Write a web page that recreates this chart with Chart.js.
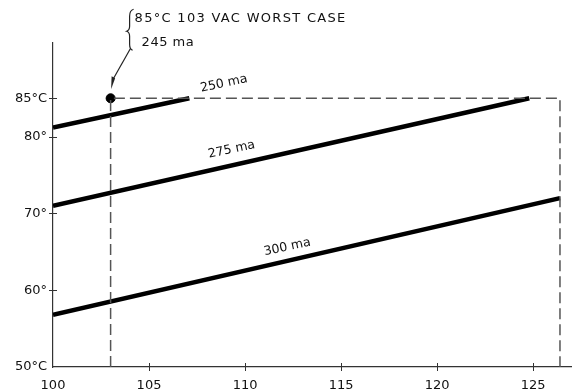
<!DOCTYPE html>
<html>
<head>
<meta charset="utf-8">
<script src="https://cdn.jsdelivr.net/npm/chart.js@4.4.1/dist/chart.umd.min.js"></script>
<style>
  html, body { margin: 0; padding: 0; background: #fff; }
  #wrap { width: 577px; height: 390px; position: relative; }
</style>
</head>
<body>
<div id="wrap"><canvas id="chart"></canvas></div>
<script>
// curves: case temperature vs line voltage for three currents
const currentLabels = ["250 ma", "275 ma", "300 ma"];
const voltage250 = [100, 107.1];
const temp250 = [81.2, 85];
const voltage275 = [100, 124.8];
const temp275 = [71.0, 85];
const voltage300 = [100, 126.4];
const temp300 = [56.8, 72.0];

// where each current label sits (data coords)
const labelX = [108.9, 109.3, 112.2];
const labelY = [86.9, 78.3, 65.6];

// worst case point and its dashed box
const worstX = [103];
const worstY = [85];
const boxX = [103, 103, 126.4, 126.4];
const boxY = [50, 85, 85, 50];
const annotationLines = ["85°C 103 VAC WORST CASE", "245 ma"];

// axes
const xTickValues = [100, 105, 110, 115, 120, 125];
const yTickValues = [50, 60, 70, 80, 85];
const yTickLabels = ["50°C", "60°", "70°", "80°", "85°C"];

const FONT = "'DejaVu Sans', sans-serif";
const INK = "#111";

function pts(xs, ys) {
  return xs.map((x, i) => ({ x: x, y: ys[i] }));
}

function curve(xs, ys) {
  return {
    data: pts(xs, ys),
    showLine: true,
    borderColor: "#000",
    borderWidth: 4.5,
    pointRadius: 0,
    borderCapStyle: "butt",
  };
}

// tick crosses, curve labels, worst-case note
const extras = {
  id: "extras",
  afterDraw(chart) {
    const ctx = chart.ctx;
    const xs = chart.scales.x;
    const ys = chart.scales.y;
    const area = chart.chartArea;
    ctx.save();
    ctx.strokeStyle = "#333";
    ctx.lineWidth = 1;
    ctx.beginPath();
    yTickValues.slice(1).forEach((v) => {
      const y = Math.round(ys.getPixelForValue(v)) + 0.5;
      ctx.moveTo(area.left - 4, y);
      ctx.lineTo(area.left + 4, y);
    });
    xTickValues.slice(1).forEach((v) => {
      const x = Math.round(xs.getPixelForValue(v)) + 0.5;
      ctx.moveTo(x, area.bottom - 4);
      ctx.lineTo(x, area.bottom + 4);
    });
    ctx.stroke();

    ctx.fillStyle = INK;
    ctx.font = "12.5px " + FONT;
    ctx.textAlign = "center";
    ctx.textBaseline = "middle";
    currentLabels.forEach((t, i) => {
      ctx.save();
      ctx.translate(xs.getPixelForValue(labelX[i]), ys.getPixelForValue(labelY[i]));
      ctx.rotate(-12 * Math.PI / 180);
      ctx.fillText(t, 0, 0);
      ctx.restore();
    });

    // note above the worst-case point
    const px = xs.getPixelForValue(worstX[0]);
    const py = ys.getPixelForValue(worstY[0]);
    ctx.textAlign = "left";
    ctx.font = "13px " + FONT;
    ctx.letterSpacing = "1.3px";
    ctx.fillText(annotationLines[0], px + 24, py - 80);
    ctx.letterSpacing = "0.5px";
    ctx.fillText(annotationLines[1], px + 31, py - 56);
    ctx.letterSpacing = "0px";

    // brace
    ctx.strokeStyle = "#222";
    ctx.lineWidth = 1.2;
    ctx.beginPath();
    ctx.moveTo(px + 23, py - 89);
    ctx.quadraticCurveTo(px + 19, py - 88, px + 19, py - 82);
    ctx.lineTo(px + 19, py - 72);
    ctx.quadraticCurveTo(px + 19, py - 68, px + 16, py - 67);
    ctx.quadraticCurveTo(px + 19, py - 66, px + 19, py - 62);
    ctx.lineTo(px + 19, py - 54);
    ctx.quadraticCurveTo(px + 19, py - 49, px + 22, py - 48);
    ctx.stroke();

    // arrow
    ctx.beginPath();
    ctx.moveTo(px + 20, py - 50);
    ctx.lineTo(px + 3, py - 20);
    ctx.stroke();
    ctx.beginPath();
    ctx.moveTo(px + 0.5, py - 9);
    ctx.lineTo(px + 1, py - 22);
    ctx.lineTo(px + 4.5, py - 20);
    ctx.closePath();
    ctx.fillStyle = "#222";
    ctx.fill();
    ctx.restore();
  },
};

const ctx = document.getElementById("chart").getContext("2d");
const myChart = new Chart(ctx, {
  type: "scatter",
  data: {
    datasets: [
      {
        data: pts(boxX, boxY),
        showLine: true,
        borderColor: "#555",
        borderWidth: 1.5,
        borderDash: [11, 5],
        pointRadius: 0,
      },
      curve(voltage250, temp250),
      curve(voltage275, temp275),
      curve(voltage300, temp300),
      {
        data: pts(worstX, worstY),
        pointRadius: 4.5,
        pointBackgroundColor: "#000",
        pointBorderColor: "#000",
      },
    ],
  },
  options: {
    responsive: true,
    maintainAspectRatio: false,
    animation: false,
    layout: { padding: { top: 43, right: 0, left: 0, bottom: 0 } },
    plugins: {
      legend: { display: false },
      tooltip: { enabled: false },
    },
    scales: {
      x: {
        type: "linear",
        min: 100,
        max: 127,
        afterBuildTicks: (s) => { s.ticks = xTickValues.map((v) => ({ value: v })); },
        afterFit: (s) => { s.height = 23; },
        ticks: {
          padding: 11,
          color: INK,
          font: { family: FONT, size: 13 },
          maxRotation: 0,
          callback: (v) => String(v),
        },
        grid: { drawOnChartArea: false, drawTicks: false },
        border: { display: true, color: "#333", width: 1.2 },
      },
      y: {
        type: "linear",
        min: 50,
        max: 92.2,
        afterBuildTicks: (s) => { s.ticks = yTickValues.map((v) => ({ value: v })); },
        afterFit: (s) => { s.width = 53; },
        ticks: {
          padding: 6,
          color: INK,
          font: { family: FONT, size: 13 },
          callback: (v) => yTickLabels[yTickValues.indexOf(v)],
        },
        grid: { drawOnChartArea: false, drawTicks: false },
        border: { display: true, color: "#333", width: 1.2 },
      },
    },
  },
  plugins: [extras],
});
</script>
</body>
</html>
